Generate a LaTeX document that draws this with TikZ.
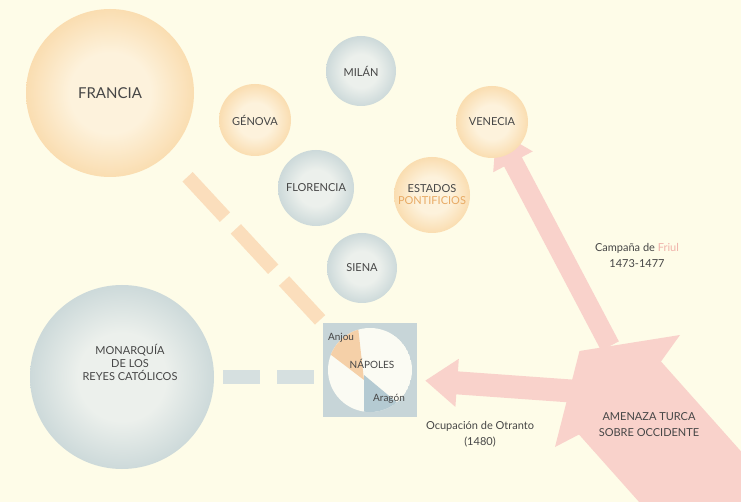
\documentclass[tikz,border=0pt]{standalone}
\usepackage{fontspec}
\setmainfont{Lato}
\usetikzlibrary{arrows.meta,calc}
\definecolor{bg}{RGB}{254,252,232}
\definecolor{orA}{RGB}{253,242,220}
\definecolor{orB}{RGB}{246,194,120}
\definecolor{blA}{RGB}{236,240,236}
\definecolor{blB}{RGB}{164,188,194}
\definecolor{pinkc}{RGB}{249,210,203}
\definecolor{txt}{RGB}{70,70,70}
\definecolor{orTxt}{RGB}{232,170,100}
\definecolor{orDash}{RGB}{251,222,188}
\definecolor{blDash}{RGB}{214,224,224}
\definecolor{napSq}{RGB}{199,213,216}
\definecolor{napW}{RGB}{251,251,243}
\definecolor{napO}{RGB}{245,208,168}
\definecolor{napB}{RGB}{180,202,210}
\definecolor{friul}{RGB}{240,178,170}
\pgfdeclareradialshading{orball}{\pgfpoint{0bp}{0bp}}{color(0bp)=(orA); color(12bp)=(orA); color(42bp)=(orB); color(50bp)=(orB); color(100bp)=(orB)}
\pgfdeclareradialshading{blball}{\pgfpoint{0bp}{0bp}}{color(0bp)=(blA); color(12bp)=(blA); color(42bp)=(blB); color(50bp)=(blB); color(100bp)=(blB)}
\begin{document}
\begin{tikzpicture}[x=1pt,y=-1pt,
  ball/.style={circle, inner sep=0pt, text=txt, align=center, font=\fontsize{11}{13}\selectfont},
  orb/.style={ball, shade, shading=orball},
  blb/.style={ball, shade, shading=blball},
  lbl/.style={text=txt, align=center, inner sep=0pt, font=\fontsize{11}{16}\selectfont},
  smalllbl/.style={text=txt, inner sep=0pt, font=\fontsize{10}{12}\selectfont},
  ordash/.style={draw=orDash, line width=14pt, dash pattern=on 55pt off 16pt},
  bldash/.style={draw=blDash, line width=14pt, dash pattern=on 37pt off 17pt}
]
\useasboundingbox (0,0) rectangle (741,502);
\fill[bg] (0,0) rectangle (741,502);

% circles (nodes)
\node[orb, minimum size=168pt] (francia) at (110,93) {\fontsize{15}{17}\selectfont FRANCIA};
\node[blb, minimum size=184pt] (monarquia) at (122,377) {};
\node[minimum size=94pt, inner sep=0pt, fill=napSq] (napoles) at (370,370) {};

% dashed links
\draw[ordash, shorten <=30pt, shorten >=4pt] (francia) -- (napoles.north west);
\draw[bldash, shorten <=9pt, shorten >=6pt] (monarquia.east) -- (monarquia.east -| napoles.west);

% Turkish threat
\begin{scope}
\clip (0,0) rectangle (741,502);
\fill[pinkc] (579.5,351) -- (680,335) -- (661,361.5) -- (819,539) -- (737,612) -- (579,434.5) -- (555,447) -- cycle;
\coordinate (turkV) at (610,346);
\coordinate (turkN) at (585,392);
\draw[draw=pinkc, line width=20pt, -{Triangle[width=42pt,length=36pt]}, shorten >=9pt] (turkV) -- (492,122);
\draw[draw=pinkc, line width=23pt, -{Triangle[width=46pt,length=32pt]}, shorten >=8pt] (turkN) -- ($(napoles.east)+(0,10)$);
\end{scope}

% Italian states
\node[blb, minimum size=70pt] (milan) at (361,71) {MILÁN};
\node[orb, minimum size=72pt] (genova) at (255,120) {GÉNOVA};
\node[orb, minimum size=72pt] (venecia) at (492,122) {VENECIA};
\node[blb, minimum size=76pt] (florencia) at (316,188) {FLORENCIA};
\node[orb, minimum size=76pt] (estados) at (432,195) {ESTADOS\\[-1pt]\textcolor{orTxt}{PONTIFICIOS}};
\node[blb, minimum size=70pt] (siena) at (362,268) {SIENA};

% Monarquia text
\node[lbl] (monText) at (130,362) {MONARQUÍA\\[-3pt]DE LOS\\[-3pt]REYES CATÓLICOS};

% Napoles interior
\begin{scope}
\clip (370,370) circle[radius=42];
\fill[napW] (370,370) circle[radius=42];
\fill[napO] (364,380) -- (355,300) -- (305,335) -- cycle;
\fill[napB] (364,375) -- (364,430) -- (430,430) -- cycle;
\end{scope}
\node[smalllbl] (anjou) at (341,338) {Anjou};
\node[smalllbl] (napText) at (372,364) {NÁPOLES};
\node[smalllbl] (aragon) at (389,399) {Aragón};

% labels
\node[lbl] (campana) at (637,255) {Campaña de \textcolor{friul}{Friul}\\1473-1477};
\node[lbl] (otranto) at (480,434) {Ocupación de Otranto\\(1480)};
\node[lbl] (amenaza) at (649,425) {AMENAZA TURCA\\SOBRE OCCIDENTE};
\end{tikzpicture}
\end{document}
